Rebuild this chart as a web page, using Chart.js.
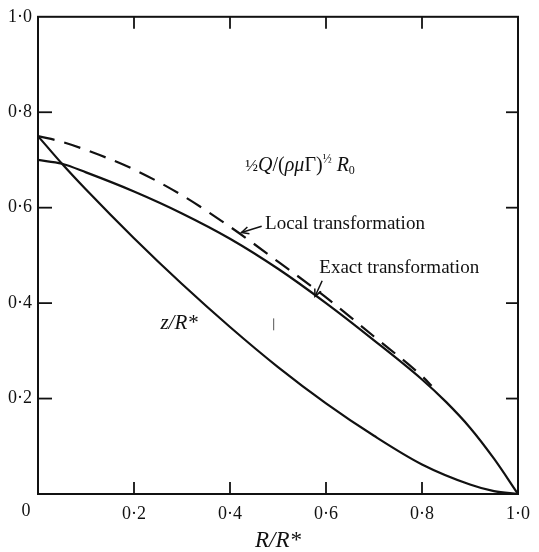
<!DOCTYPE html>
<html>
<head>
<meta charset="utf-8">
<script src="https://cdn.jsdelivr.net/npm/chart.js@4/dist/chart.umd.min.js"></script>
<style>
  html, body { margin: 0; padding: 0; background: #fff; }
  #wrap { width: 539px; height: 552px; position: relative; }
</style>
</head>
<body>
<div id="wrap"><canvas id="c" width="539" height="552"></canvas></div>
<script>
// ---- data ----
const zR_x    = [0, 0.05, 0.1, 0.2, 0.3, 0.4, 0.5, 0.6, 0.7, 0.8, 0.9, 0.95, 1.0];
const zR_y    = [0.75, 0.692, 0.638, 0.536, 0.44, 0.35, 0.266, 0.19, 0.122, 0.062, 0.02, 0.006, 0];
const exact_x = [0, 0.05, 0.1, 0.2, 0.3, 0.4, 0.5, 0.6, 0.7, 0.8, 0.85, 0.9, 0.95, 1.0];
const exact_y = [0.70, 0.692, 0.674, 0.634, 0.588, 0.535, 0.472, 0.40, 0.322, 0.24, 0.193, 0.139, 0.074, 0];
const local_x = [0, 0.05, 0.1, 0.2, 0.3, 0.4, 0.5, 0.6, 0.7, 0.8, 0.82];
const local_y = [0.75, 0.738, 0.721, 0.68, 0.626, 0.56, 0.487, 0.412, 0.33, 0.247, 0.227];
const xTickValues = [0, 0.2, 0.4, 0.6, 0.8, 1.0];
const xTickLabels = ['0', '0·2', '0·4', '0·6', '0·8', '1·0'];
const yTickValues = [0.2, 0.4, 0.6, 0.8, 1.0];
const yTickLabels = ['0·2', '0·4', '0·6', '0·8', '1·0'];
const innerTicks = [0.2, 0.4, 0.6, 0.8];

const pts = (xs, ys) => xs.map((v, i) => ({ x: v, y: ys[i] }));
const SERIF = '"Liberation Serif", "DejaVu Serif", serif';
const INK = '#111';

function labelFor(values, labels, v) {
  const i = values.findIndex(t => Math.abs(t - v) < 1e-6);
  return i >= 0 ? labels[i] : '';
}

const decor = {
  id: 'decor',
  afterDraw(chart) {
    const { ctx, chartArea: { left, right, top, bottom }, scales: { x, y } } = chart;
    ctx.save();
    ctx.strokeStyle = INK;
    ctx.lineCap = 'butt';
    // frame
    ctx.lineWidth = 2;
    ctx.strokeRect(left, top, right - left, bottom - top);
    // inward ticks on all four sides
    ctx.lineWidth = 1.8;
    const seg = (a, b, c, d) => { ctx.beginPath(); ctx.moveTo(a, b); ctx.lineTo(c, d); ctx.stroke(); };
    for (const v of innerTicks) {
      const px = x.getPixelForValue(v);
      seg(px, bottom, px, bottom - 12);
      seg(px, top, px, top + 12);
      const py = y.getPixelForValue(v);
      seg(left, py, left + 14, py);
      seg(right, py, right - 12, py);
    }
    // origin label "0"
    ctx.fillStyle = INK;
    ctx.font = '18px ' + SERIF;
    ctx.textAlign = 'center';
    ctx.textBaseline = 'middle';
    ctx.fillText(xTickLabels[0], left - 12, bottom + 17);

    // annotations
    const P = (vx, vy) => [x.getPixelForValue(vx), y.getPixelForValue(vy)];
    ctx.textAlign = 'left';
    ctx.textBaseline = 'middle';

    // z/R*
    let [tx, ty] = P(0.255, 0.357);
    ctx.font = 'italic 21px ' + SERIF;
    ctx.fillText('z/R*', tx, ty);

    // Local / Exact transformation labels + arrows
    ctx.font = '19px ' + SERIF;
    [tx, ty] = P(0.473, 0.566);
    ctx.fillText('Local transformation', tx, ty);
    [tx, ty] = P(0.586, 0.474);
    ctx.fillText('Exact transformation', tx, ty);

    const arrow = (x0, y0, x1, y1) => {
      const [a, b] = P(x0, y0), [c, d] = P(x1, y1);
      ctx.lineWidth = 1.5;
      seg(a, b, c, d);
      const ang = Math.atan2(d - b, c - a), L = 8, W = 0.45;
      ctx.beginPath();
      ctx.moveTo(c - L * Math.cos(ang - W), d - L * Math.sin(ang - W));
      ctx.lineTo(c, d);
      ctx.lineTo(c - L * Math.cos(ang + W), d - L * Math.sin(ang + W));
      ctx.stroke();
    };
    arrow(0.466, 0.561, 0.424, 0.548);
    arrow(0.592, 0.447, 0.577, 0.414);

    // ½Q/(ρμΓ)½ R0
    [tx, ty] = P(0.432, 0.687);
    let cx = tx;
    const put = (txt, font, dy = 0) => { ctx.font = font; ctx.fillText(txt, cx, ty + dy); cx += ctx.measureText(txt).width; };
    const up = '20px ' + SERIF, it = 'italic 20px ' + SERIF, sm = '12px ' + SERIF;
    put('½', '17px ' + SERIF, 0);
    put('Q', it);
    put('/(', up);
    put('ρμ', it);
    put('Γ)', up);
    put('½', sm, -6);
    cx += 5;
    put('R', it);
    put('0', sm, 5);

    // small scan mark
    ctx.lineWidth = 1;
    ctx.strokeStyle = '#555';
    const [mx, my0] = P(0.491, 0.343), [, my1] = P(0.491, 0.368);
    seg(mx, my0, mx, my1);
    ctx.restore();
  }
};

const lineStyle = { borderColor: INK, borderWidth: 2.2, pointRadius: 0, fill: false, cubicInterpolationMode: 'monotone' };

new Chart(document.getElementById('c'), {
  type: 'line',
  data: {
    datasets: [
      Object.assign({ label: 'z/R*', data: pts(zR_x, zR_y) }, lineStyle),
      Object.assign({ label: 'Exact transformation', data: pts(exact_x, exact_y) }, lineStyle),
      Object.assign({ label: 'Local transformation', data: pts(local_x, local_y), borderDash: [17, 10] }, lineStyle)
    ]
  },
  options: {
    responsive: false,
    animation: false,
    devicePixelRatio: 1,
    layout: { padding: { top: 15, right: 15, left: 0, bottom: 0 } },
    plugins: { legend: { display: false }, tooltip: { enabled: false } },
    scales: {
      x: {
        type: 'linear', min: 0, max: 1,
        afterFit: s => { s.height = 58; },
        grid: { display: false, drawTicks: false },
        border: { display: false },
        ticks: {
          stepSize: 0.2, padding: 9, maxRotation: 0, autoSkip: false,
          color: INK, font: { family: SERIF, size: 18 },
          callback: v => (Math.abs(v) < 1e-6 ? '' : labelFor(xTickValues, xTickLabels, v))
        },
        title: {
          display: true, text: 'R/R*', color: INK,
          font: { family: SERIF, size: 23, style: 'italic', lineHeight: 1 },
          padding: { top: 0, bottom: 0 }
        }
      },
      y: {
        type: 'linear', min: 0, max: 1,
        afterFit: s => { s.width = 38; },
        grid: { display: false, drawTicks: false },
        border: { display: false },
        ticks: {
          stepSize: 0.2, padding: 6, autoSkip: false,
          color: INK, font: { family: SERIF, size: 18 },
          callback: v => labelFor(yTickValues, yTickLabels, v)
        }
      }
    }
  },
  plugins: [decor]
});
</script>
</body>
</html>
